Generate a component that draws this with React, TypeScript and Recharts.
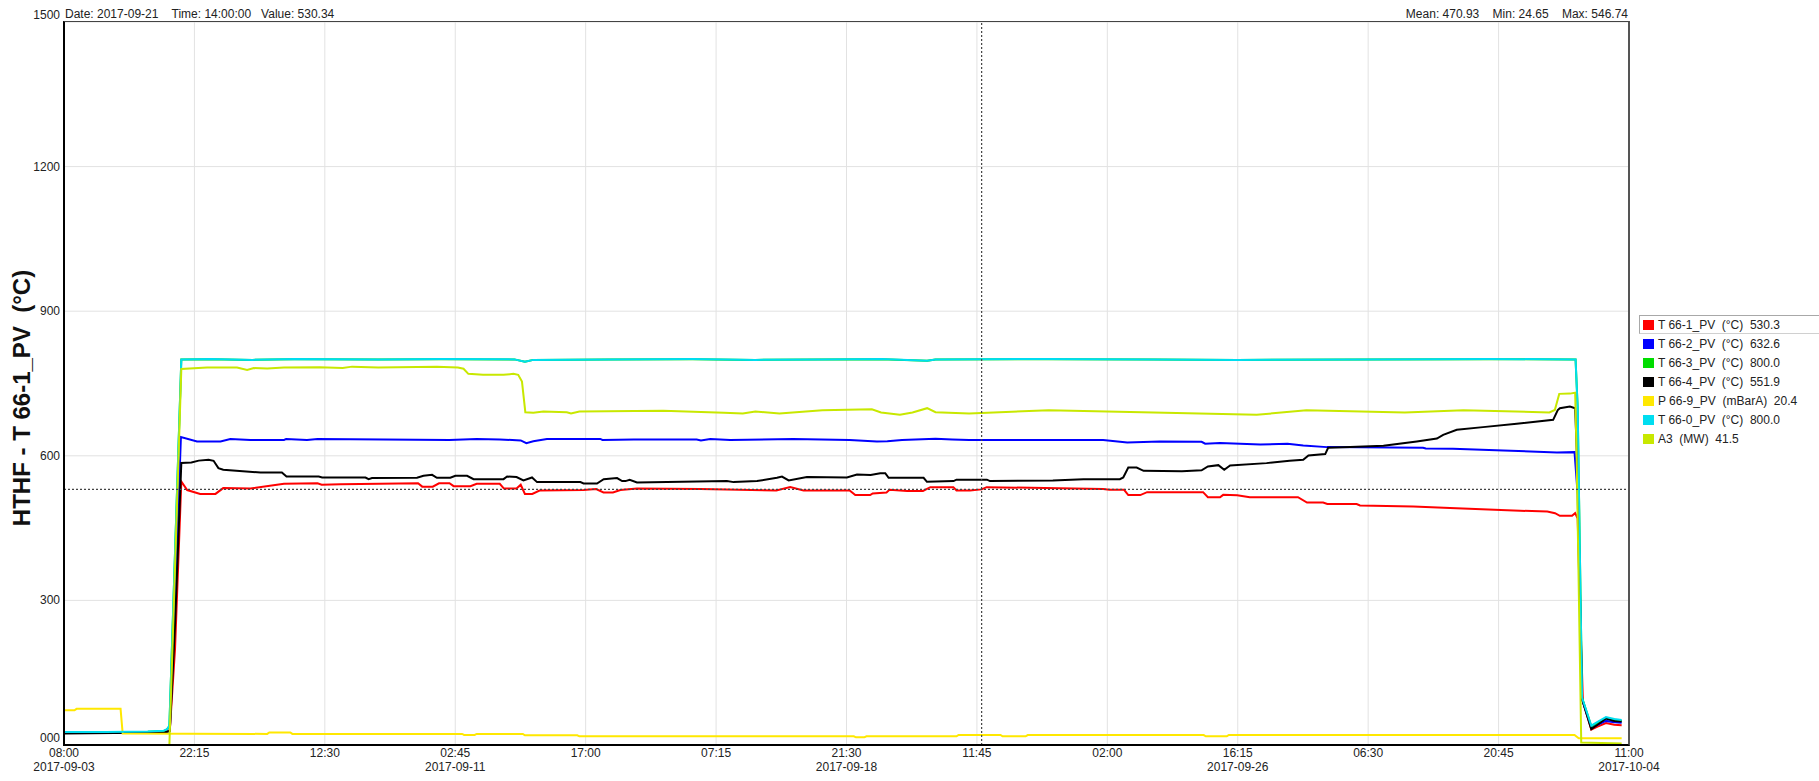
import React from 'react';
import { LineChart, Line, XAxis, YAxis, CartesianGrid, ReferenceLine } from 'recharts';

// hours since 2017-09-03 08:00, one tick every 2 d 14:15
const timeTicks = [0, 62.25, 124.5, 186.75, 249, 311.25, 373.5, 435.75, 498, 560.25, 622.5, 684.75, 747];
const timeLabels = ['08:00', '22:15', '12:30', '02:45', '17:00', '07:15', '21:30', '11:45', '02:00', '16:15', '06:30', '20:45', '11:00'];
const dateLabels = ['2017-09-03', '', '', '2017-09-11', '', '', '2017-09-18', '', '', '2017-09-26', '', '', '2017-10-04'];
const valueTicks = [0, 300, 600, 900, 1200, 1500];

const cursorHour = 438;
const cursorValue = 530.34;

// [hour, value] samples per tag
const t66_1: [number, number][] = [
  [0, 26], [48, 27], [50.5, 30], [53, 200], [56, 546.7], [58.8, 529], [65, 521], [72.3, 521], [76, 533], [89, 532],
  [105, 542], [121, 543], [123, 540], [132, 541], [169, 543], [171, 536], [176, 536], [179, 543], [184, 543], [186, 537],
  [194, 537], [197, 542], [208, 542], [210, 532], [216, 532], [218, 540], [220, 521], [223.5, 521], [227, 528], [248, 529],
  [254, 531], [257.5, 524], [262, 524], [265.6, 529], [273.5, 532], [303.7, 531], [340, 528], [346.6, 535], [353, 528],
  [375, 528], [377.7, 518.5], [384.8, 518.5], [386, 522], [392.6, 524], [394, 529.5], [402.5, 527], [410, 527],
  [413.5, 535], [424.5, 535], [426, 528], [432.5, 528], [438, 530.3], [440.4, 535], [496, 531], [499, 529.5],
  [506, 529.5], [508, 518.5], [513.7, 518.5], [517, 524.6], [543.7, 524.6], [546, 514], [551.8, 514], [553.3, 519],
  [560, 518], [566, 514], [589, 514], [593.3, 503], [601, 503], [603, 500], [617, 500], [618.6, 497], [644, 495],
  [661.6, 491.5], [695, 486], [708, 484.5], [711.7, 481], [714, 475.5], [719.8, 475.5], [721.3, 481], [722.5, 470],
  [723.5, 300], [725, 90], [729, 32], [732, 38], [736, 45.5], [740, 42], [743.5, 41],
];

const t66_2: [number, number][] = [
  [0, 25], [48, 26], [50.5, 29], [53, 300], [55.8, 638.7], [63.5, 629.6], [74.7, 629.6], [79.4, 634.6], [89, 633],
  [105, 633], [106, 634.6], [116, 633], [121, 634.6], [184, 633], [197, 635], [208, 634], [218, 631.8], [220.7, 626],
  [224, 630], [230.5, 635], [256, 635], [257, 633], [272, 634], [302, 634], [304, 632], [308.5, 635], [318, 633],
  [348, 635], [375, 633], [388, 629.7], [393, 630], [400, 633], [416, 635.6], [424, 634], [432, 633], [496, 633],
  [507.5, 627.6], [523, 629.7], [543, 629], [544.7, 625], [551.8, 626.6], [571, 623.5], [584, 625], [591.5, 621.4],
  [602.8, 618], [648.7, 616.5], [650, 615], [663, 614.5], [687, 611], [712.6, 607], [721, 607.6], [722.5, 520],
  [724.6, 95], [729, 36], [732, 42], [736, 50], [740, 47], [743.5, 46],
];

const t66_3: [number, number][] = [
  [0, 26.5], [20, 26.5], [40, 27.5], [47.6, 29], [49.2, 32.5], [50.3, 39.5], [56, 800], [70, 800.5], [90, 799],
  [110, 800.5], [150, 800], [180, 800.5], [215, 800], [220, 795], [224, 799], [260, 800], [300, 800.5], [330, 799],
  [360, 800], [390, 800.5], [412, 797], [416, 800], [470, 800.5], [520, 800], [560, 799], [620, 800], [680, 800.5],
  [721.5, 800], [722.5, 700], [724.6, 98], [729, 39], [736, 56], [743.5, 50],
];

const t66_4: [number, number][] = [
  [0, 24], [48, 26], [50.5, 29], [53, 250], [56, 585], [60.8, 586], [64.3, 590], [69, 591.7], [71.4, 589.6],
  [73.7, 574.4], [76, 571], [93.8, 565.4], [104, 565.4], [106.2, 557], [121.6, 557], [123.2, 555], [143.9, 555],
  [145.4, 551.6], [147, 553.7], [168.5, 554.4], [171.6, 558.5], [175.7, 560.5], [178, 554.4], [184.4, 554.4],
  [186.8, 558.5], [192.4, 558.5], [195.5, 551.6], [209.8, 551.6], [211.5, 557], [216, 556], [219.3, 548.8],
  [223.4, 555], [225.8, 545.4], [246.5, 545.4], [248, 542.5], [254.4, 542.5], [257.6, 551.6], [264, 553.7],
  [266.4, 547.5], [268, 547.5], [270, 550], [273.5, 544.6], [316.4, 547.5], [319.6, 545.4], [330.8, 547.5],
  [340.3, 554.4], [342.7, 557], [345.9, 548.8], [354.6, 555.8], [373.7, 555], [378.5, 561.2], [385, 560],
  [389.6, 564], [392, 564], [393.6, 554.4], [410.3, 554.4], [411.9, 546], [424.6, 547.5], [426, 550.5],
  [440.5, 550.5], [442, 547.5], [472, 548.8], [486.6, 551.6], [504, 551.6], [505.6, 555], [508, 575.7],
  [512, 575.7], [515.3, 568.8], [533.6, 568], [543, 570], [546, 577.8], [551, 580.6], [553.8, 570.9],
  [556.6, 580], [574, 584.8], [585, 589.6], [591.5, 591.7], [594, 600.6], [602, 603.5], [603.4, 616.5],
  [613.9, 618], [629.8, 620.7], [645.7, 629.7], [655.3, 635.8], [658.3, 643.5], [664.8, 653.9], [677.3, 659.5],
  [693.4, 666.4], [710.8, 674.6], [713, 695], [714, 698.8], [718.8, 702], [721.3, 698.8], [722.5, 560],
  [724.6, 95], [729, 33], [732, 42], [736, 55], [740, 50], [743.5, 49],
];

const p66_9: [number, number][] = [
  [0, 72], [5, 72], [6, 75], [27, 75], [28, 24], [97, 23], [98, 26], [108, 26], [109, 23], [190, 23], [191, 21],
  [196, 21], [197, 23], [219, 23], [220, 20], [245, 20], [246, 18], [377, 18], [378, 16], [382, 16], [383, 18],
  [426, 18], [427, 21], [447, 21], [448, 18], [459, 18], [460, 20.5], [544, 20.5], [545, 18], [555, 18], [556, 21],
  [721, 21], [723, 14], [743.5, 14],
];

const t66_0: [number, number][] = [
  [0, 27], [20, 27], [40, 28], [47.6, 29.6], [49.2, 33], [50.3, 40], [56, 800], [70, 801], [90, 799], [110, 801],
  [150, 800], [180, 801], [215, 800], [220, 795], [224, 799], [260, 800], [300, 801], [330, 799], [360, 800],
  [390, 801], [412, 797], [416, 800], [470, 801], [520, 800], [560, 799], [620, 800], [680, 801], [721.5, 800],
  [722.5, 700], [724.6, 98], [729, 40], [732, 48], [736, 58], [740, 54], [743.5, 52],
];

const a3: [number, number][] = [
  [0, 0], [50.3, 0], [56, 780], [68.3, 783], [82.6, 783], [87.4, 778], [90.6, 782], [97, 781], [105, 783],
  [122, 783.5], [133, 782], [137.5, 785], [150, 783], [178, 785], [188, 783], [190.7, 780.6], [193, 770], [200, 768],
  [209.8, 768], [214.5, 770], [216.8, 768], [218.6, 754], [220.2, 690.5], [224, 689.5], [228.8, 692], [240, 690.5],
  [242, 688], [246, 692], [286, 693.5], [315, 689.5], [324, 688], [330, 692], [341.5, 688], [362, 694.6],
  [385.6, 696.7], [390, 690], [399, 685], [405, 690], [412, 698.8], [416, 690.5], [432, 688], [470, 694.6],
  [520, 690], [569.3, 685], [593, 694.6], [640, 690], [668, 694.6], [709, 690], [711.6, 695], [713.7, 728.5],
  [718.8, 729], [721.3, 731], [722, 600], [724.2, 5], [743.5, 3],
];

const tags = [
  { name: 'T 66-1_PV  (°C)  530.3', color: '#FF0000', points: t66_1 },
  { name: 'T 66-2_PV  (°C)  632.6', color: '#0000FF', points: t66_2 },
  { name: 'T 66-3_PV  (°C)  800.0', color: '#00DD00', points: t66_3 },
  { name: 'T 66-4_PV  (°C)  551.9', color: '#000000', points: t66_4 },
  { name: 'P 66-9_PV  (mBarA)  20.4', color: '#FFE800', points: p66_9 },
  { name: 'T 66-0_PV  (°C)  800.0', color: '#00DDF0', points: t66_0 },
  { name: 'A3  (MW)  41.5', color: '#C8E800', points: a3 },
];

const FONT = '"Liberation Sans", Arial, sans-serif';

const TimeTick = (props: any) => {
  const { x, y, payload, index } = props;
  const i = index ?? timeTicks.indexOf(payload.value);
  return (
    <g>
      <text x={x} y={y + 12} textAnchor="middle" fontSize={12} fontFamily={FONT} fill="#222">
        {timeLabels[i]}
      </text>
      <text x={x} y={y + 26} textAnchor="middle" fontSize={12} fontFamily={FONT} fill="#222">
        {dateLabels[i]}
      </text>
    </g>
  );
};

const ValueTick = (props: any) => {
  const { x, y, payload } = props;
  const v = payload.value;
  const shift = v === 0 || v === 1500 ? -7 : 0;
  return (
    <text x={x - 4} y={y + shift + 4} textAnchor="end" fontSize={12} fontFamily={FONT} fill="#222">
      {v === 0 ? '000' : String(v)}
    </text>
  );
};

export default function App() {
  return (
    <div style={{ position: 'absolute', left: 0, top: 0, width: 1819, height: 781, background: '#fff', fontFamily: FONT }}>
      <LineChart width={1819} height={781} margin={{ top: 22, right: 190, left: 0, bottom: 0 }}>
        <CartesianGrid stroke="#E2E2E2" strokeWidth={1} />
        <XAxis
          type="number"
          dataKey="t"
          domain={[0, 747]}
          ticks={timeTicks}
          height={36}
          tickLine={false}
          axisLine={false}
          tickSize={0}
          tickMargin={0}
          tick={<TimeTick />}
          interval={0}
          allowDataOverflow
        />
        <YAxis
          type="number"
          domain={[0, 1500]}
          ticks={valueTicks}
          width={64}
          tickLine={false}
          axisLine={false}
          tickSize={0}
          tickMargin={0}
          tick={<ValueTick />}
          interval={0}
          allowDataOverflow
        />
        {tags.map((tag) => (
          <Line
            key={tag.name}
            data={tag.points.map(([t, v]) => ({ t, v }))}
            dataKey="v"
            type="linear"
            stroke={tag.color}
            strokeWidth={2}
            dot={false}
            activeDot={false}
            isAnimationActive={false}
          />
        ))}
        <ReferenceLine x={cursorHour} stroke="#444" strokeWidth={1.2} strokeDasharray="2 2" />
        <ReferenceLine y={cursorValue} stroke="#444" strokeWidth={1.2} strokeDasharray="2 2" />
      </LineChart>

      {/* plot frame */}
      <div
        style={{
          position: 'absolute',
          left: 63,
          top: 21,
          width: 1567,
          height: 725,
          boxSizing: 'border-box',
          borderLeft: '2px solid #000',
          borderBottom: '2px solid #000',
          borderTop: '1px solid #444',
          borderRight: '2px solid #555',
          pointerEvents: 'none',
        }}
      />

      <div style={{ position: 'absolute', left: 65, top: 7, fontSize: 12, color: '#222', whiteSpace: 'pre' }}>
        {'Date: 2017-09-21    Time: 14:00:00   Value: 530.34'}
      </div>
      <div style={{ position: 'absolute', right: 1819 - 1628, top: 7, fontSize: 12, color: '#222', whiteSpace: 'pre' }}>
        {'Mean: 470.93    Min: 24.65    Max: 546.74'}
      </div>

      <div
        style={{
          position: 'absolute',
          left: 22,
          top: 398,
          transform: 'translate(-50%, -50%) rotate(-90deg)',
          fontSize: 24,
          fontWeight: 'bold',
          color: '#111',
          whiteSpace: 'pre',
        }}
      >
        {'HTHF - T 66-1_PV  (°C)'}
      </div>

      <div style={{ position: 'absolute', left: 1639, top: 315, width: 180 }}>
        {tags.map((tag, i) => (
          <div
            key={tag.name}
            style={{
              position: 'relative',
              height: 19,
              boxSizing: 'border-box',
              borderTop: i === 0 ? '1px solid #A8A8A8' : '1px solid transparent',
              borderBottom: i === 0 ? '1px solid #D0D0D0' : '1px solid transparent',
              borderLeft: i === 0 ? '1px solid #A8A8A8' : '1px solid transparent',
            }}
          >
            <span
              style={{
                position: 'absolute',
                left: 3,
                top: 4,
                width: 11,
                height: 10,
                background: tag.color,
              }}
            />
            <span
              style={{
                position: 'absolute',
                left: 18,
                top: 1,
                fontSize: 12,
                lineHeight: '16px',
                color: '#222',
                whiteSpace: 'pre',
              }}
            >
              {tag.name}
            </span>
          </div>
        ))}
      </div>
    </div>
  );
}
